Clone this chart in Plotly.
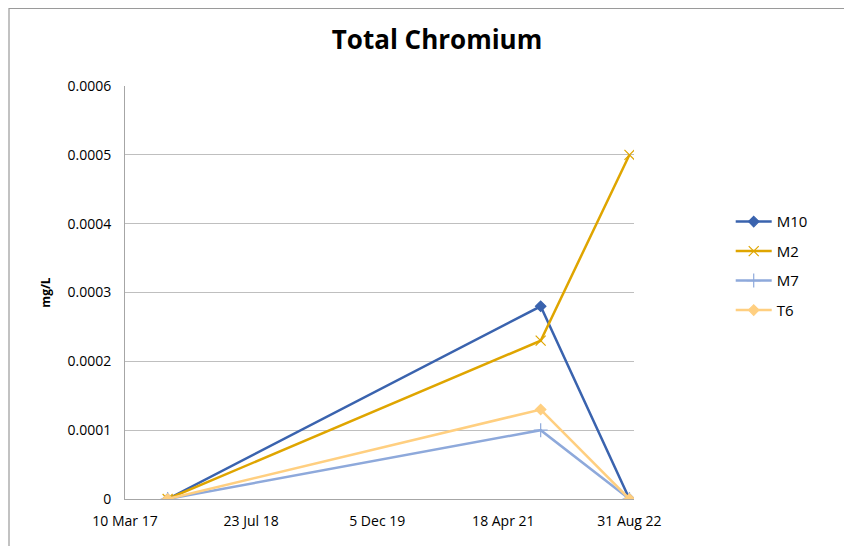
import plotly.graph_objects as go

dates = ["2017-08-26", "2021-09-13", "2022-08-31"]
m10 = [0, 0.00028, 0]
m2 = [0, 0.00023, 0.0005]
m7 = [0, 0.0001, 0]
t6 = [0, 0.00013, 0]

tick_vals = ["2017-03-10", "2018-07-23", "2019-12-05", "2021-04-18", "2022-08-31"]
tick_text = ["10 Mar 17", "23 Jul 18", "5 Dec 19", "18 Apr 21", "31 Aug 22"]
y_ticks = [0, 0.0001, 0.0002, 0.0003, 0.0004, 0.0005, 0.0006]
y_text = ["0", "0.0001", "0.0002", "0.0003", "0.0004", "0.0005", "0.0006"]

series = [
    ("M10", m10, "#3A63AE", "diamond", 8),
    ("M2", m2, "#DFA500", "x-thin-open", 10),
    ("M7", m7, "#8EA9DB", "cross-thin-open", 10),
    ("T6", t6, "#FFCF80", "diamond", 8),
]

fig = go.Figure()
for name, vals, color, sym, size in series:
    fig.add_trace(go.Scatter(
        x=dates, y=vals, name=name, legendgroup=name, mode="lines+markers",
        line=dict(color=color, width=2.5),
        marker=dict(symbol=sym, size=size, color=color,
                    line=dict(color=color, width=1.2)),
    ))

# page body has an 8px margin, so the figure is laid out 8px up/left
fig.update_layout(
    width=852, height=546,
    margin=dict(l=117, r=226, t=78, b=55),
    paper_bgcolor="white", plot_bgcolor="white",
    font=dict(family="Open Sans", size=14, color="#000000"),
    title=dict(text="<b>Total Chromium</b>", x=0.5035, xanchor="center",
               y=0.941, yanchor="middle", font=dict(size=26, family="Open Sans")),
    legend=dict(x=1.19, y=0.711, xanchor="left", yanchor="top",
                font=dict(size=15), tracegroupgap=7, itemwidth=36),
    showlegend=True,
)
fig.update_xaxes(
    type="date", range=["2017-03-10", "2022-09-18"],
    tickvals=tick_vals, ticktext=tick_text, showgrid=False,
    showline=True, linecolor="#A6A6A6", linewidth=1, ticks="",
    tickfont=dict(size=14), zeroline=False, ticklabelstandoff=9,
)
fig.update_yaxes(
    range=[0, 0.0006], tickvals=y_ticks, ticktext=y_text,
    showgrid=True, gridcolor="#BFBFBF", gridwidth=1,
    showline=True, linecolor="#A6A6A6", linewidth=1, ticks="",
    zeroline=False, tickfont=dict(size=14), ticklabelstandoff=10,
    title=dict(text="<b>mg/L</b>", font=dict(size=12), standoff=14),
)
# outer chart border (partly cropped in the reference)
fig.add_shape(type="rect", xref="paper", yref="paper",
              x0=-116 / 509, x1=(860 - 117) / 509,
              y0=-0.3, y1=(413 + 77.5) / 413,
              line=dict(color="#9A9A9A", width=1.2), layer="below")

fig.write_html("out.html")
